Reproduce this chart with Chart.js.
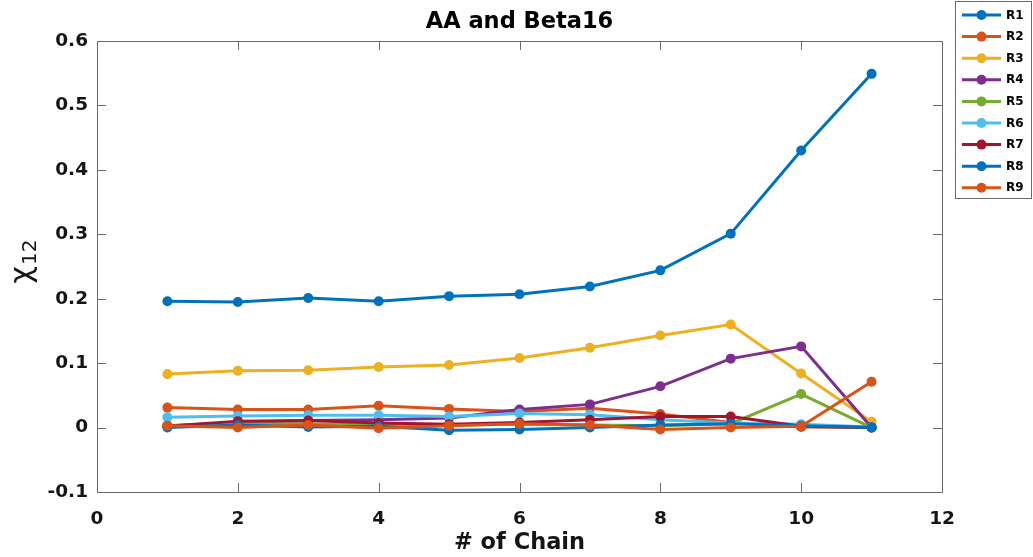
<!DOCTYPE html>
<html><head><meta charset="utf-8">
<script src="https://cdn.jsdelivr.net/npm/chart.js@4.4.0/dist/chart.umd.min.js"></script>
<style>html,body{margin:0;padding:0;background:#fff;} #wrap{width:1033px;height:557px;position:relative;}</style>
</head><body><div id="wrap"><canvas id="c" width="1033" height="557"></canvas></div>
<script>
const chartTitle = 'AA and Beta16';
const xAxisTitle = '# of Chain';
const yAxisSymbol = 'χ';
const yAxisSub = '12';
const chains = [1,2,3,4,5,6,7,8,9,10,11];
const xTickLabels = ['0','2','4','6','8','10','12'];
const yTickLabels = ['-0.1','0','0.1','0.2','0.3','0.4','0.5','0.6'];
const seriesNames = ['R1','R2','R3','R4','R5','R6','R7','R8','R9'];
const R1 = [0.196, 0.195, 0.201, 0.196, 0.204, 0.207, 0.219, 0.244, 0.301, 0.430, 0.549];
const R2 = [0.031, 0.028, 0.028, 0.034, 0.029, 0.025, 0.030, 0.021, 0.008, 0.001, 0.000];
const R3 = [0.083, 0.088, 0.089, 0.094, 0.097, 0.108, 0.124, 0.143, 0.160, 0.084, 0.009];
const R4 = [0.003, 0.008, 0.011, 0.012, 0.015, 0.028, 0.036, 0.064, 0.107, 0.126, 0.000];
const R5 = [0.003, 0.006, 0.006, 0.004, 0.004, 0.005, 0.004, 0.003, 0.006, 0.052, 0.000];
const R6 = [0.016, 0.018, 0.019, 0.019, 0.017, 0.022, 0.020, 0.012, 0.007, 0.005, 0.001];
const R7 = [0.002, 0.010, 0.011, 0.007, 0.005, 0.008, 0.012, 0.017, 0.017, 0.002, 0.000];
const R8 = [0.000, 0.004, 0.001, 0.002, -0.004, -0.003, 0.000, 0.004, 0.006, 0.003, 0.000];
const R9 = [0.003, 0.000, 0.004, -0.001, 0.003, 0.006, 0.004, -0.003, 0.000, 0.002, 0.071];
const seriesValues = [R1,R2,R3,R4,R5,R6,R7,R8,R9];
const seriesColors = ['#0072BD','#D95319','#EDB120','#7E2F8E','#77AC30','#4DBEEE','#A2142F','#0072BD','#D95319'];

const FONT = "'DejaVu Sans', 'Liberation Sans', Arial, sans-serif";
const AXIS_COLOR = '#6b6b6b';
const TEXT_COLOR = '#151515';

const datasets = seriesNames.map((name, i) => ({
  label: name,
  data: chains.map((c, j) => ({x: c, y: seriesValues[i][j]})),
  borderColor: seriesColors[i],
  backgroundColor: seriesColors[i],
  pointBackgroundColor: seriesColors[i],
  pointBorderColor: seriesColors[i],
  borderWidth: 3,
  pointRadius: 5,
  pointBorderWidth: 0,
  tension: 0,
  order: seriesNames.length - i,
  clip: false
}));

const boxPlugin = {
  id: 'boxPlugin',
  afterDatasetsDraw(chart) {
    const {ctx, chartArea: a, scales} = chart;
    ctx.save();
    ctx.strokeStyle = AXIS_COLOR;
    ctx.lineWidth = 1;
    ctx.beginPath();
    ctx.rect(Math.round(a.left) + 0.5, Math.round(a.top) + 0.5, Math.round(a.right - a.left), Math.round(a.bottom - a.top));
    ctx.stroke();
    const tl = 9;
    ctx.beginPath();
    scales.x.ticks.forEach(t => {
      const px = Math.round(scales.x.getPixelForValue(t.value)) + 0.5;
      ctx.moveTo(px, a.bottom); ctx.lineTo(px, a.bottom - tl);
      ctx.moveTo(px, a.top); ctx.lineTo(px, a.top + tl);
    });
    scales.y.ticks.forEach(t => {
      const py = Math.round(scales.y.getPixelForValue(t.value)) + 0.5;
      ctx.moveTo(a.left, py); ctx.lineTo(a.left + tl, py);
      ctx.moveTo(a.right, py); ctx.lineTo(a.right - tl, py);
    });
    ctx.stroke();
    ctx.restore();
  },
  afterDraw(chart) {
    const {ctx, chartArea: a} = chart;
    ctx.save();
    // title
    ctx.fillStyle = '#000';
    ctx.font = "bold 22.5px " + FONT;
    ctx.textAlign = 'center';
    ctx.textBaseline = 'alphabetic';
    ctx.fillText(chartTitle, (a.left + a.right) / 2, 28);
    // y axis label
    ctx.translate(23, 262);
    ctx.rotate(-Math.PI / 2);
    ctx.font = "30px " + FONT;
    const w1 = ctx.measureText(yAxisSymbol).width;
    ctx.font = "20px " + FONT;
    const w2 = ctx.measureText(yAxisSub).width;
    const start = -(w1 + w2) / 2;
    ctx.textAlign = 'left';
    ctx.textBaseline = 'middle';
    ctx.fillStyle = TEXT_COLOR;
    ctx.font = "30px " + FONT;
    ctx.fillText(yAxisSymbol, start, 0);
    ctx.font = "20px " + FONT;
    ctx.fillText(yAxisSub, start + w1 + 1, 8);
    ctx.restore();
    // legend
    ctx.save();
    const lx = 955, ly = 1, lw = 76, lh = 197;
    ctx.fillStyle = '#fff';
    ctx.fillRect(lx, ly, lw, lh);
    ctx.strokeStyle = AXIS_COLOR;
    ctx.lineWidth = 1;
    ctx.strokeRect(lx + 0.5, ly + 0.5, lw, lh);
    chart.data.datasets.forEach((ds, i) => {
      const y = 15 + i * 21.6;
      ctx.strokeStyle = ds.borderColor;
      ctx.lineWidth = 3;
      ctx.beginPath();
      ctx.moveTo(962, y); ctx.lineTo(1001, y);
      ctx.stroke();
      ctx.fillStyle = ds.borderColor;
      ctx.beginPath();
      ctx.arc(981.5, y, 5, 0, Math.PI * 2);
      ctx.fill();
      ctx.fillStyle = '#000';
      ctx.font = "bold 12px " + FONT;
      ctx.textAlign = 'left';
      ctx.textBaseline = 'middle';
      ctx.fillText(ds.label, 1006, y + 0.5);
    });
    ctx.restore();
  }
};

new Chart(document.getElementById('c'), {
  type: 'line',
  data: { datasets },
  options: {
    responsive: false,
    animation: false,
    devicePixelRatio: 1,
    layout: { padding: { top: 41, right: 91, left: 0, bottom: 0 } },
    plugins: { legend: { display: false }, title: { display: false }, tooltip: { enabled: false } },
    scales: {
      x: {
        type: 'linear', min: 0, max: 12,
        ticks: { stepSize: 2, padding: 16, color: TEXT_COLOR, font: { family: FONT, size: 18.5, weight: 'bold' },
          callback: (v, i) => xTickLabels[i], maxRotation: 0 },
        grid: { display: false, drawTicks: false },
        border: { display: false },
        title: { display: true, text: xAxisTitle, color: TEXT_COLOR, font: { family: FONT, size: 22.5, weight: 'bold' }, padding: { top: 0, bottom: 0 } },
        afterFit: s => { s.height = 65; }
      },
      y: {
        type: 'linear', min: -0.1, max: 0.6,
        ticks: { stepSize: 0.1, padding: 9, color: TEXT_COLOR, font: { family: FONT, size: 18.5, weight: 'bold' },
          callback: (v, i) => yTickLabels[i] },
        grid: { display: false, drawTicks: false },
        border: { display: false },
        afterFit: s => { s.width = 97; }
      }
    }
  },
  plugins: [boxPlugin]
});
</script>
</body></html>
